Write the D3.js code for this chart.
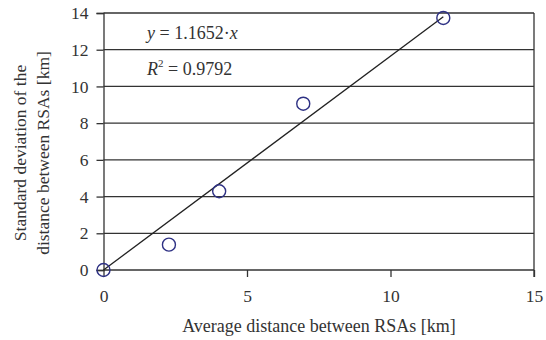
<!DOCTYPE html>
<html>
<head>
<meta charset="utf-8">
<script src="https://cdn.jsdelivr.net/npm/d3@7"></script>
<style>
  body { margin: 0; background: #fff; }
</style>
</head>
<body>
<svg id="chart" width="546" height="340"></svg>
<script>
// measured points (avg distance, std deviation) in km
const avgDist = [0, 2.28, 4.03, 6.96, 11.84];
const stdDev = [0, 1.38, 4.29, 9.06, 13.73];
const xTicks = [0, 5, 10, 15];
const yTicks = [0, 2, 4, 6, 8, 10, 12, 14];
const slope = 1.1652;
const r2 = "0.9792";

const svg = d3.select("#chart");
const x = d3.scaleLinear().domain([0, 15]).range([103.5, 534]);
const y = d3.scaleLinear().domain([0, 14]).range([270, 13]);
const ink = "#333";
const serif = "'Liberation Serif', 'Times New Roman', serif";

// horizontal grid
svg.append("g")
  .selectAll("line")
  .data(yTicks)
  .join("line")
  .attr("x1", x(0)).attr("x2", x(15))
  .attr("y1", d => y(d)).attr("y2", d => y(d))
  .attr("stroke", ink).attr("stroke-width", 1.3);

// y axis
let yAxis = svg.append("g")
  .attr("transform", `translate(${x(0)},0)`)
  .call(d3.axisLeft(y).tickValues(yTicks).tickSize(7).tickPadding(8));
yAxis.select(".domain").attr("stroke", ink).attr("stroke-width", 1.3);
yAxis.selectAll(".tick line").attr("stroke", ink).attr("stroke-width", 1.3);
yAxis.selectAll("text")
  .style("font-family", serif).style("font-size", "17.5px").attr("fill", ink);

// x axis
let xAxis = svg.append("g")
  .attr("transform", `translate(0,${y(0)})`)
  .call(d3.axisBottom(x).tickValues(xTicks).tickSize(7).tickPadding(13));
xAxis.select(".domain").remove();
xAxis.selectAll(".tick line").attr("stroke", ink).attr("stroke-width", 1.3);
xAxis.selectAll("text")
  .style("font-family", serif).style("font-size", "17.5px").attr("fill", ink);

// right border
svg.append("line")
  .attr("x1", x(15)).attr("x2", x(15))
  .attr("y1", y(14)).attr("y2", y(0) + 7)
  .attr("stroke", ink).attr("stroke-width", 1.3);

// trend line
const xMax = d3.max(avgDist);
svg.append("line")
  .attr("x1", x(0)).attr("y1", y(0))
  .attr("x2", x(xMax)).attr("y2", y(slope * xMax))
  .attr("stroke", "#222").attr("stroke-width", 1.3);

// points
svg.append("g")
  .selectAll("circle")
  .data(avgDist.map((d, i) => [d, stdDev[i]]))
  .join("circle")
  .attr("cx", d => x(d[0]))
  .attr("cy", d => y(d[1]))
  .attr("r", 6.5)
  .attr("fill", "none")
  .attr("stroke", "#2e3184")
  .attr("stroke-width", 1.4);

// equation
let eq = svg.append("text")
  .attr("x", 147).attr("y", 39)
  .style("font-family", serif).style("font-size", "18px").attr("fill", ink);
eq.append("tspan").attr("font-style", "italic").text("y");
eq.append("tspan").text(" = " + slope + "·");
eq.append("tspan").attr("font-style", "italic").text("x");

let rt = svg.append("text")
  .attr("x", 147).attr("y", 75)
  .style("font-family", serif).style("font-size", "18px").attr("fill", ink);
rt.append("tspan").attr("font-style", "italic").text("R");
rt.append("tspan").attr("dy", -8).style("font-size", "11px").text("2");
rt.append("tspan").attr("dy", 8).text(" = " + r2);

// axis titles
svg.append("text")
  .attr("x", 319).attr("y", 332)
  .attr("text-anchor", "middle")
  .style("font-family", serif).style("font-size", "18px").attr("fill", ink)
  .text("Average distance between RSAs [km]");

let yt = svg.append("text")
  .attr("transform", "translate(26,153) rotate(-90)")
  .attr("text-anchor", "middle")
  .style("font-family", serif).style("font-size", "17.5px").attr("fill", ink);
yt.append("tspan").attr("x", 0).attr("y", 0).text("Standard deviation of the");
yt.append("tspan").attr("x", 0).attr("y", 23).text("distance between RSAs [km]");
</script>
</body>
</html>
